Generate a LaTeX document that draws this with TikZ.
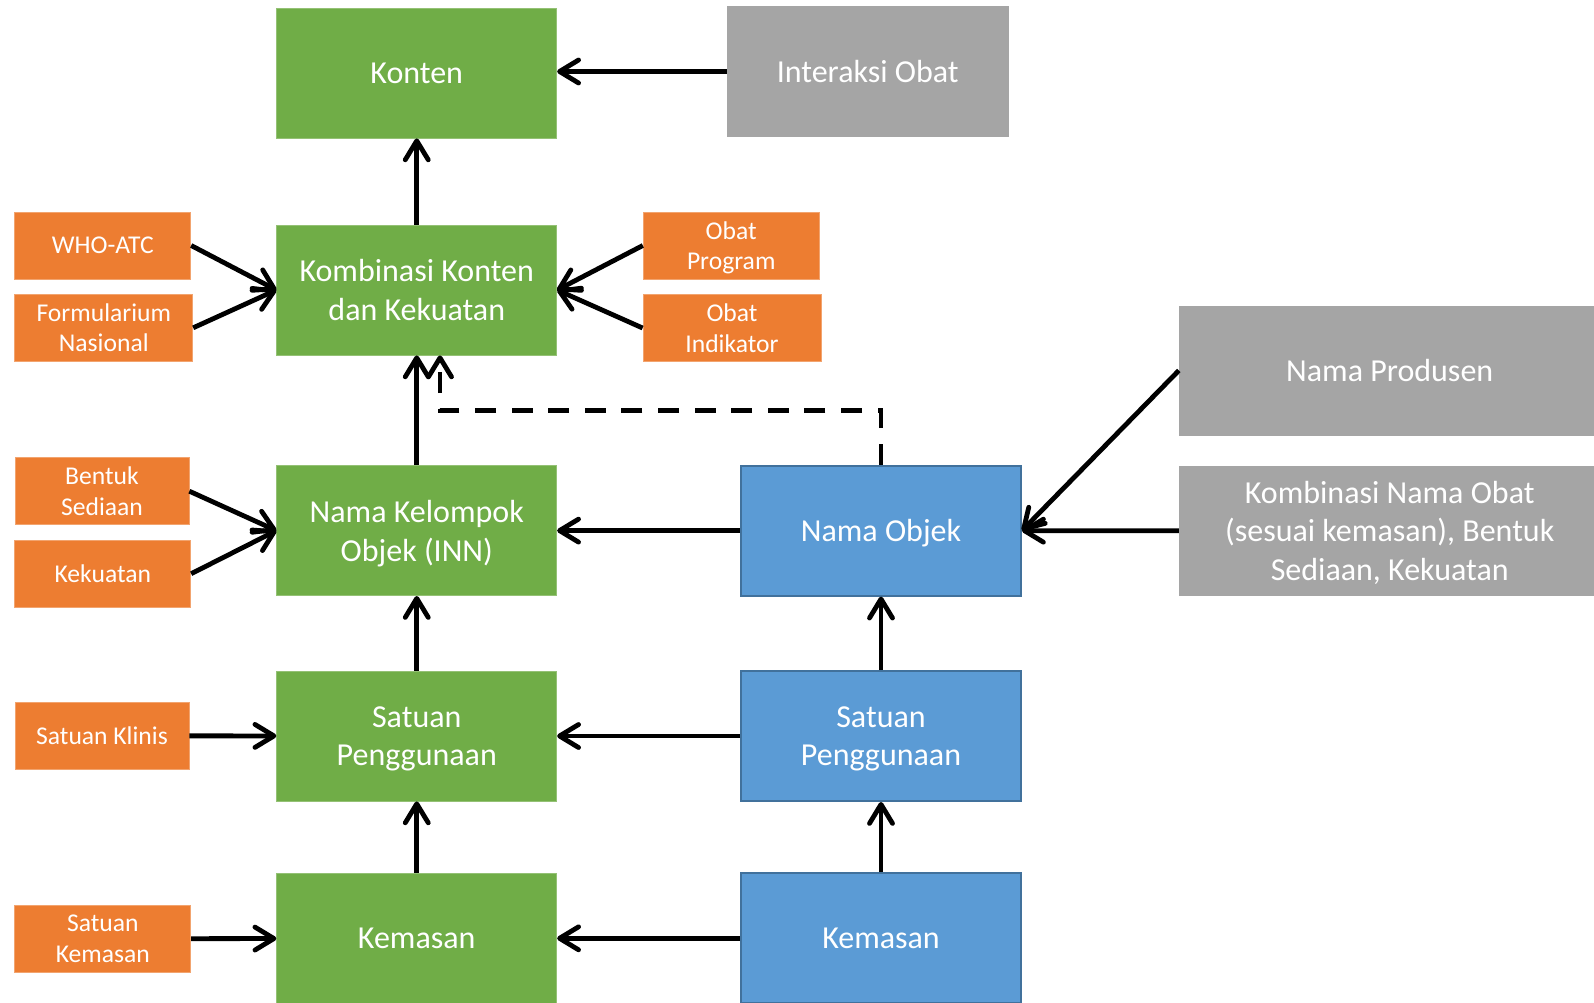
\documentclass[tikz,border=0pt]{standalone}
\usepackage{fontspec}
\setmainfont{Carlito}
\usepackage{tikz}
\usetikzlibrary{arrows.meta, positioning, calc}
\definecolor{obgreen}{HTML}{70AD47}
\definecolor{obblue}{HTML}{5B9BD5}
\definecolor{obblueline}{HTML}{41719C}
\definecolor{oborange}{HTML}{ED7D31}
\definecolor{obgray}{HTML}{A5A5A5}

\begin{document}
\begin{tikzpicture}[x=0.5pt, y=-0.5pt,
    box/.style={rectangle, fill=#1, draw=#1!75!white, line width=0.4pt, text=white, inner sep=0pt,
                minimum width=140pt, minimum height=65pt, align=center, text depth=0pt,
                font=\fontsize{16}{19.3}\selectfont},
    bluebox/.style={box=obblue, draw=obblueline, line width=1pt},
    tag/.style={rectangle, fill=oborange, draw=oborange!70!white, line width=0.4pt, text=white, inner sep=0pt,
                minimum width=88pt, minimum height=33.5pt, align=center, text depth=0pt,
                font=\fontsize{12.8}{15.3}\selectfont},
    arrow/.style={-{Straight Barb[length=9.5pt, width=11.5pt, line join=round, line cap=round]}, line width=2.4pt, black},
    dasharrow/.style={arrow, dash pattern=on 10.5pt off 7.8pt}
]
\useasboundingbox (0,0) rectangle (1594,1002);
\clip (0,0) rectangle (1594,1002);

% green column
\node[box=obgreen] (konten)   at (416.75,73)  {Konten};
\node[box=obgreen] (kombinasi) at (416.75,290) {Kombinasi Konten\\dan Kekuatan};
\node[box=obgreen] (kelompok) at (416.75,530.6) {Nama Kelompok\\Objek (INN)};
\node[box=obgreen] (guna)     at (416.75,736)  {Satuan\\Penggunaan};
\node[box=obgreen] (kemasan)  at (416.75,938.3) {Kemasan};

% blue column
\node[bluebox] (objek)    at (881,530.6) {Nama Objek};
\node[bluebox] (gunab)    at (881,736)   {Satuan\\Penggunaan};
\node[bluebox] (kemasanb) at (881,938.3) {Kemasan};

% gray sources
\node[box=obgray, draw=none, minimum width=140.75pt, minimum height=65.5pt] (interaksi) at (867.75,71.5) {Interaksi Obat};
\node[box=obgray, draw=none, minimum width=210.5pt] (produsen) at (1389.7,370.5) {Nama Produsen};
\node[box=obgray, draw=none, minimum width=210.5pt] (namaobat) at (1389.7,530.8) {Kombinasi Nama Obat\\(sesuai kemasan), Bentuk\\Sediaan, Kekuatan};

% orange tags
\node[tag] (who)       at (102.8,245.5) {WHO-ATC};
\node[tag, minimum width=89pt] (formularium) at (103.8,327.8) {Formularium\\Nasional};
\node[tag] (program)   at (731.2,245.5) {Obat\\Program};
\node[tag, minimum width=89pt] (indikator) at (732,328) {Obat\\Indikator};
\node[tag, minimum width=87pt] (bentuk)    at (102,491.2) {Bentuk\\Sediaan};
\node[tag] (kekuatan)  at (102.8,573.7) {Kekuatan};
\node[tag, minimum width=87pt] (klinis)    at (102,735.8) {Satuan Klinis};
\node[tag] (satkemasan) at (102.8,938.8) {Satuan\\Kemasan};

\draw[arrow] (interaksi.west) -- (konten.east |- interaksi.west);
\draw[arrow] (kombinasi) -- (konten);
\draw[arrow] (who.east) -- (kombinasi.west);
\draw[arrow] (formularium.east) -- (kombinasi.west);
\draw[arrow] (program.west) -- (kombinasi.east);
\draw[arrow] (indikator.west) -- (kombinasi.east);
\draw[arrow] (kelompok) -- (kombinasi);
\coordinate (bend) at ($(kombinasi.south)+(23.25,55)$);
\draw[dasharrow] (objek.north) |- (bend) -- (bend |- kombinasi.south);

\draw[arrow] (bentuk.east) -- (kelompok.west);
\draw[arrow] (kekuatan.east) -- (kelompok.west);
\draw[arrow] (objek) -- (kelompok);
\draw[arrow] (produsen.west) -- (objek.east);
\draw[arrow] (namaobat) -- (objek);

\draw[arrow] (guna) -- (kelompok);
\draw[arrow] (gunab) -- (objek);
\draw[arrow] (klinis) -- (guna);
\draw[arrow] (gunab) -- (guna);

\draw[arrow] (kemasan) -- (guna);
\draw[arrow] (kemasanb) -- (gunab);
\draw[arrow] (satkemasan) -- (kemasan);
\draw[arrow] (kemasanb) -- (kemasan);
\end{tikzpicture}
\end{document}
